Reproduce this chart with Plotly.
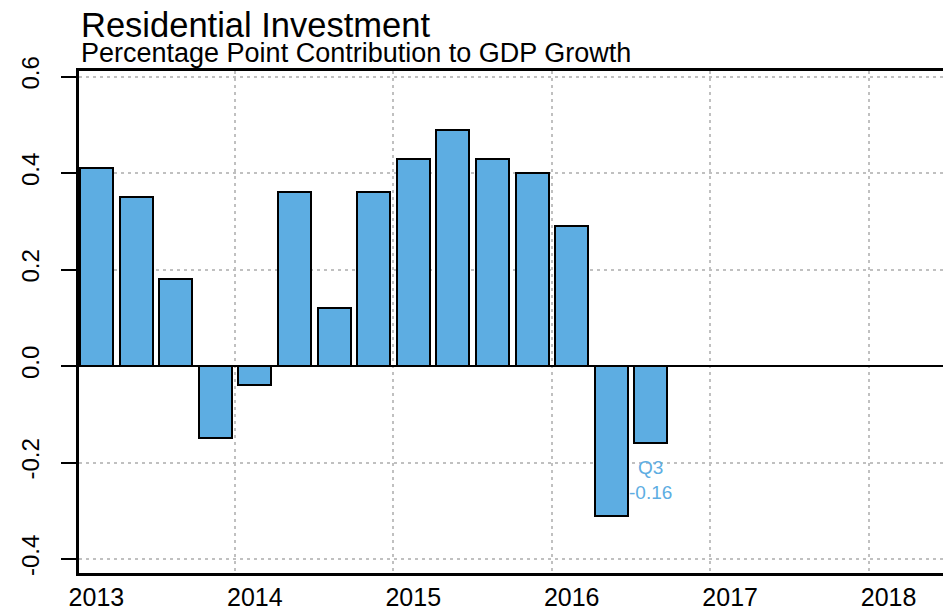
import plotly.graph_objects as go

# ---- data ----
quarters = ["2013 Q1", "2013 Q2", "2013 Q3", "2013 Q4",
            "2014 Q1", "2014 Q2", "2014 Q3", "2014 Q4",
            "2015 Q1", "2015 Q2", "2015 Q3", "2015 Q4",
            "2016 Q1", "2016 Q2", "2016 Q3"]
contribution = [0.41, 0.35, 0.18, -0.15,
                -0.04, 0.36, 0.12, 0.36,
                0.43, 0.49, 0.43, 0.40,
                0.29, -0.31, -0.16]
year_ticks = [2013, 2014, 2015, 2016, 2017, 2018]
year_labels = ["2013", "2014", "2015", "2016", "2017", "2018"]
y_ticks = [-0.4, -0.2, 0.0, 0.2, 0.4, 0.6]
y_labels = ["-0.4", "-0.2", "0.0", "0.2", "0.4", "0.6"]

title_text = "Residential Investment"
subtitle_text = "Percentage Point Contribution to GDP Growth"

# decimal-year position of each quarter
def qpos(q):
    y, qq = q.split(" Q")
    return int(y) + (int(qq) - 1) / 4

x = [qpos(q) for q in quarters]

BAR = "#5DADE2"
FONT = "Liberation Sans, Arial, Helvetica, sans-serif"

fig = go.Figure()
fig.add_trace(go.Bar(
    x=x, y=contribution,
    width=0.25 / 1.2,
    marker=dict(color=BAR, line=dict(color="black", width=2)),
    customdata=quarters,
    hovertemplate="%{customdata}: %{y}<extra></extra>",
))

last_q = quarters[-1].split(" ")[1]
last_v = contribution[-1]
fig.add_annotation(
    x=x[-1], y=last_v, xref="x", yref="y",
    text=f"{last_q}<br>{last_v:.2f}",
    showarrow=False, yanchor="top", yshift=-12,
    font=dict(family=FONT, size=19, color=BAR),
    align="center",
)

fig.add_annotation(
    xref="paper", yref="paper", x=0, y=1.0, xanchor="left", yanchor="bottom",
    yshift=25,
    text=title_text, showarrow=False,
    font=dict(family=FONT, size=34.5, color="black"),
)
fig.add_annotation(
    xref="paper", yref="paper", x=0, y=1.0, xanchor="left", yanchor="bottom",
    yshift=1,
    text=subtitle_text, showarrow=False,
    font=dict(family=FONT, size=27, color="black"),
)

grid = dict(color="#c0c0c0", width=1.5, dash="3px,4px")

# the page body has an 8px default margin, so margins are offset by 8px
fig.update_layout(
    width=951, height=612,
    margin=dict(l=71, r=15, t=63, b=47, autoexpand=False),
    paper_bgcolor="white", plot_bgcolor="white",
    showlegend=False,
    bargap=0,
    font=dict(family=FONT, color="black"),
    xaxis=dict(
        range=[2013 - 0.44 / 4, 2013 + 21.40 / 4],
        tickmode="array", tickvals=year_ticks, ticktext=year_labels,
        tickfont=dict(size=25, color="black"),
        ticks="", showgrid=False, zeroline=False, automargin=False,
        showline=True, linecolor="black", linewidth=2.5, mirror=True,
        ticklabelstandoff=0,
        minor=dict(tickmode="array", tickvals=[yv - 0.125 for yv in year_ticks],
                   showgrid=True, gridcolor=grid["color"], gridwidth=grid["width"],
                   griddash=grid["dash"], ticks=""),
    ),
    yaxis=dict(
        range=[-0.429, 0.6114],
        tickmode="array", tickvals=y_ticks, ticktext=y_labels,
        tickangle=-90, automargin=False,
        tickfont=dict(size=24, color="black"),
        ticks="outside", ticklen=15, tickwidth=2, tickcolor="black",
        showgrid=True, gridcolor=grid["color"], gridwidth=grid["width"],
        griddash=grid["dash"],
        zeroline=True, zerolinecolor="black", zerolinewidth=2,
        showline=True, linecolor="black", linewidth=2.5, mirror=True,
        ticklabelstandoff=13,
    ),
)

fig.write_html("out.html")
